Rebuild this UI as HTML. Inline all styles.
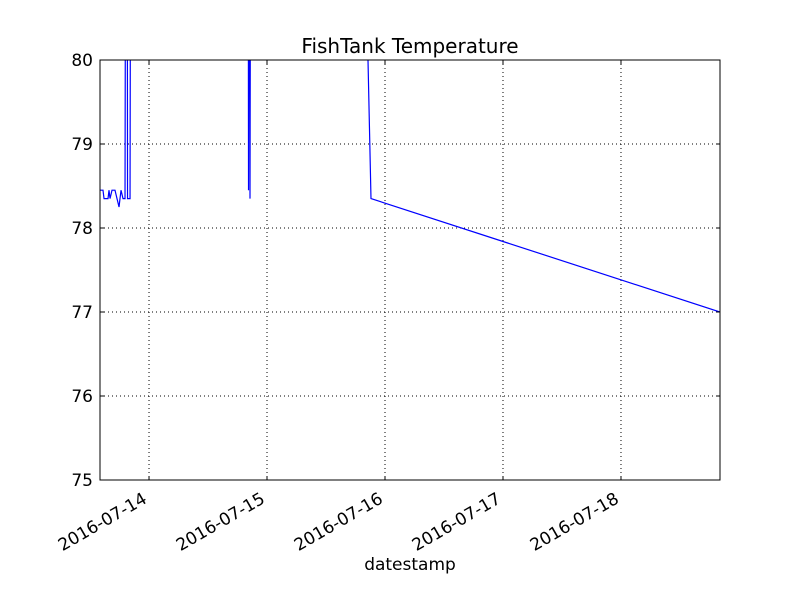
<!DOCTYPE html>
<html><head><meta charset="utf-8"><style>
body{margin:0;background:#fff;}
svg text{font-family:"DejaVu Sans","Liberation Sans",sans-serif;fill:#000;}
</style></head><body>
<svg id="chart" width="800" height="600">
<rect width="800" height="600" fill="#fff"/>
<defs><clipPath id="pc"><rect x="100" y="60" width="620" height="420"/></clipPath></defs>
<g id="grid"></g>
<path id="series" fill="none" stroke="#0000ff" stroke-width="1.2" clip-path="url(#pc)"/>
<rect x="100" y="60" width="620" height="420" fill="none" stroke="#000" stroke-width="1"/>
<g id="axes"></g>
<text x="410" y="53" font-size="20" text-anchor="middle">FishTank Temperature</text>
<text x="410" y="570" font-size="17" text-anchor="middle">datestamp</text>
</svg>
<script>
// hours relative to 2016-07-14 00:00
const hours = [-9.97,-9.36,-9.15,-8.34,-8.14,-7.93,-7.53,-6.92,-6.51,-6.10,-5.90,-5.69,-5.29,-4.88,-4.68,-4.47,-4.37,-3.86,-3.66,20.14,20.24,20.34,20.54,20.75,42.7,45.15,116.14];
const temps = [78.45,78.45,78.35,78.35,78.45,78.35,78.45,78.45,78.35,78.25,78.35,78.45,78.35,78.35,85,85,78.35,78.35,85,85,78.45,85,78.35,85,85,78.35,77.0];
const yTicks = [75,76,77,78,79,80];
const xTickLabels = ["2016-07-14","2016-07-15","2016-07-16","2016-07-17","2016-07-18"];
const xTickHours = [0,24,48,72,96];

const X0=100,X1=720,Y0=480,Y1=60;
const hMin=-9.97,hMax=116.14,yMin=75,yMax=80;
const sx=h=>X0+(h-hMin)/(hMax-hMin)*(X1-X0);
const sy=v=>Y0-(v-yMin)/(yMax-yMin)*(Y0-Y1);
const NS="http://www.w3.org/2000/svg";
const grid=document.getElementById('grid'), axes=document.getElementById('axes');
function mk(tag,attrs,parent){const e=document.createElementNS(NS,tag);for(const k in attrs)e.setAttribute(k,attrs[k]);parent.appendChild(e);return e;}

yTicks.forEach(v=>{
  const y=sy(v);
  if(v>yMin&&v<yMax){
    const g=mk('line',{x1:X0,x2:X1,y1:y,y2:y,stroke:'#000','stroke-dasharray':'1,3','stroke-width':1},grid);
    
    
  }
  mk('line',{x1:X0,x2:X0+4,y1:y,y2:y,stroke:'#000'},axes);
  mk('line',{x1:X1,x2:X1-4,y1:y,y2:y,stroke:'#000'},axes);
  const t=mk('text',{x:X0-7,y:y+6,'font-size':17,'text-anchor':'end'},axes);
  t.textContent=v;
  
  
});
xTickHours.forEach((h,i)=>{
  const x=sx(h);
  const g=mk('line',{x1:x,x2:x,y1:Y1,y2:Y0,stroke:'#000','stroke-dasharray':'1,3','stroke-width':1},grid);
  
  
  mk('line',{x1:x,x2:x,y1:Y0,y2:Y0-4,stroke:'#000'},axes);
  mk('line',{x1:x,x2:x,y1:Y1,y2:Y1+4,stroke:'#000'},axes);
  const t=mk('text',{x:x-1,y:Y0+22,'font-size':17,'text-anchor':'end',transform:`rotate(-30 ${x-1} ${Y0+22})`},axes);
  t.textContent=xTickLabels[i];
  
  
});
document.getElementById('series').setAttribute('d',hours.map((h,i)=>(i?'L':'M')+sx(h).toFixed(2)+' '+sy(temps[i]).toFixed(2)).join(' '));
</script>
</body></html>
